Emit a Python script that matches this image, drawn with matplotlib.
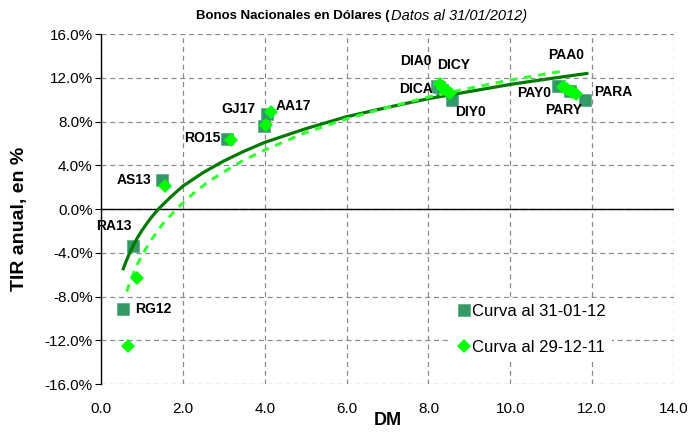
import matplotlib.pyplot as plt

plt.rcParams['font.family'] = ['Liberation Sans', 'DejaVu Sans']

bonds = ['RG12', 'RA13', 'AS13', 'RO15', 'GJ17', 'AA17',
         'DIA0', 'DICA', 'DICY', 'DIY0', 'PAA0', 'PAY0', 'PARY', 'PARA']

# Curva al 31-01-12 (squares)
dm_jan = [0.54, 0.77, 1.48, 3.09, 3.98, 4.06, 8.22, 8.25, 8.32, 8.57, 11.2, 11.16, 11.45, 11.83]
tir_jan = [-9.1, -3.4, 2.7, 6.4, 7.6, 8.7, 11.3, 11.15, 10.9, 10.0, 11.3, 11.3, 10.8, 10.0]

# Curva al 29-12-11 (diamonds)
dm_dec = [0.65, 0.89, 1.57, 3.17, 4.03, 4.15, 8.27, 8.35, 8.45, 8.52, 11.28, 11.38, 11.5, 11.6]
tir_dec = [-12.5, -6.3, 2.1, 6.3, 7.7, 8.85, 11.4, 11.1, 10.8, 10.6, 11.2, 10.95, 10.75, 10.5]

# trend curves
trend_jan_x = [0.545, 0.6, 0.7, 0.8, 0.9, 1.0, 1.2, 1.4, 1.7, 2.0, 2.5, 3.0, 3.5, 4.0, 5.0,
               6.0, 7.0, 8.0, 9.0, 10.0, 11.0, 11.87]
trend_jan_y = [-5.45, -4.9, -4.0, -3.25, -2.55, -1.95, -0.9, 0.0, 1.1, 2.1, 3.35, 4.4, 5.3, 6.1,
               7.35, 8.45, 9.3, 10.1, 10.75, 11.4, 11.95, 12.4]
trend_dec_x = [0.63, 0.7, 0.8, 0.9, 1.0, 1.2, 1.5, 1.84, 2.2, 2.6, 3.0, 3.5, 4.0, 5.0, 6.0,
               7.0, 8.0, 9.0, 10.0, 11.0, 11.25]
trend_dec_y = [-7.55, -6.7, -5.8, -4.95, -4.25, -2.95, -1.4, 0.0, 1.25, 2.45, 3.4, 4.5, 5.4,
               7.0, 8.25, 9.3, 10.25, 11.05, 11.8, 12.45, 12.6]

# label offsets (pixels) from the 31-01-12 marker
offsets = {'RG12': (12, 0, 'left'), 'RA13': (-1, 20, 'right'), 'AS13': (-10, 0, 'right'),
           'RO15': (-7, 1, 'right'), 'GJ17': (-8, 17, 'right'), 'AA17': (8, 8, 'left'),
           'DIA0': (-6, 25, 'right'), 'DICA': (-6, -2, 'right'), 'DICY': (-4, 25, 'left'),
           'DIY0': (3, -12, 'left'), 'PAA0': (-11, 31, 'left'), 'PAY0': (-7, -7, 'right'),
           'PARY': (-6, -19, 'center'), 'PARA': (9, 8, 'left')}

fig = plt.figure(figsize=(7, 4.32), dpi=100)
ax = fig.add_axes([0.1443, 0.111, 0.8186, 0.81])

ax.plot(dm_jan, tir_jan, 's', color='#339966', markeredgecolor='#5fb088', markeredgewidth=0.6,
        markersize=8.5, zorder=3, label='Curva al 31-01-12')
ax.plot(trend_jan_x, trend_jan_y, '-', color='#007a00', linewidth=2.3, zorder=4)
ax.plot(trend_dec_x, trend_dec_y, '--', color='#33ff33', linewidth=2.2, dashes=(2.5, 2.2), zorder=4)
ax.plot(dm_dec, tir_dec, 'D', color='#00ff00', markersize=7.5, markeredgewidth=0, zorder=5,
        label='Curva al 29-12-11')

for name, x, y in zip(bonds, dm_jan, tir_jan):
    dx, dy, ha = offsets[name]
    ax.annotate(name, (x, y), xytext=(dx, dy), textcoords='offset pixels', ha=ha, va='center',
                fontsize=10, fontweight='bold', zorder=6)

ax.set_xlim(0, 14)
ax.set_ylim(-16, 16)
ax.set_xticks([0, 2, 4, 6, 8, 10, 12, 14])
ax.set_xticklabels([f'{v:.1f}' for v in range(0, 15, 2)])
ax.set_yticks(range(-16, 17, 4))
ax.set_yticklabels([f'{v:.1f}%' for v in range(-16, 17, 4)])
ax.tick_params(axis='x', length=0, pad=13, labelsize=11)
ax.tick_params(axis='y', length=4, direction='out', labelsize=11, pad=2)

ax.grid(True, color='#8c8c8c', linestyle=(0, (4, 3)), linewidth=0.9)
for s in ['top', 'right', 'bottom']:
    ax.spines[s].set_visible(False)
ax.spines['left'].set_linewidth(1)
ax.axhline(0, color='black', linewidth=1, zorder=2)

ax.set_xlabel('DM', fontsize=13, fontweight='bold', labelpad=-3)
ax.set_ylabel('TIR anual, en %', fontsize=14, fontweight='bold')
ax.yaxis.set_label_coords(-0.127, 0.471)

fig.text(0.557, 0.963, 'Bonos Nacionales en Dólares (', fontsize=9.5, fontweight='bold', ha='right',
         va='center')
fig.text(0.559, 0.963, 'Datos al 31/01/2012)', fontsize=10.5, style='italic', ha='left', va='center')

leg = ax.legend(loc='lower left', bbox_to_anchor=(0.595, 0.04), fontsize=12, frameon=True,
                handlelength=0.8, handletextpad=0.1, labelspacing=1.25, borderpad=0.4)
leg.get_frame().set_edgecolor('none')
leg.get_frame().set_facecolor('white')
leg.get_frame().set_alpha(1)

fig.savefig('out.png', dpi=100)
